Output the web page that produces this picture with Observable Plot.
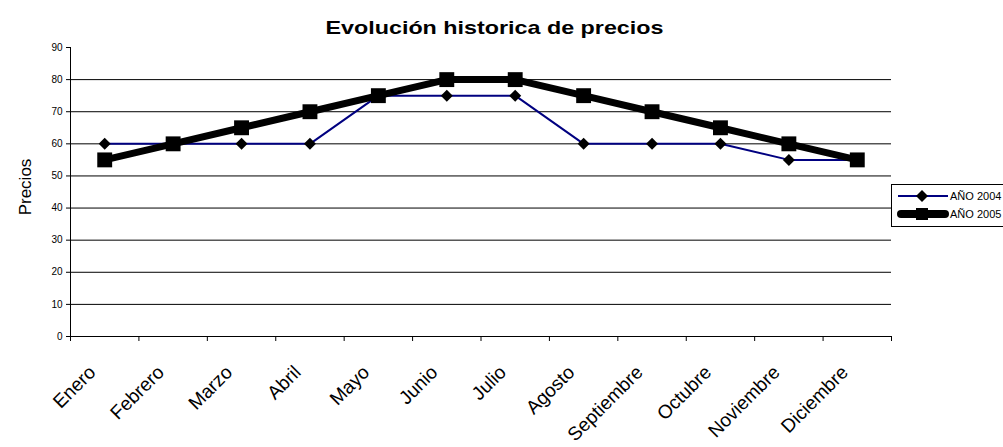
<!DOCTYPE html>
<html><head><meta charset="utf-8">
<script src="https://cdn.jsdelivr.net/npm/d3@7"></script>
<script src="https://cdn.jsdelivr.net/npm/@observablehq/plot@0.6"></script>
<style>
body{margin:0;background:#fff;font-family:"Liberation Sans",Arial,sans-serif;}
#wrap{position:relative;width:1003px;height:447px;overflow:hidden;}
#legend{position:absolute;left:891px;top:184px;width:124px;height:43px;border:1px solid #000;background:#fff;box-sizing:border-box;}
.item{position:absolute;left:4px;height:16px;display:flex;align-items:center;font-size:11px;color:#000;white-space:nowrap;}
.item svg{display:block;}
</style></head><body><div id="wrap"><div id="legend"></div></div>
<script>
const months = ["Enero","Febrero","Marzo","Abril","Mayo","Junio","Julio","Agosto","Septiembre","Octubre","Noviembre","Diciembre"];
const values2004 = [60,60,60,60,75,75,75,60,60,60,55,55];
const values2005 = [55,60,65,70,75,80,80,75,70,65,60,55];
const yTicks = [0,10,20,30,40,50,60,70,80,90];
const seriesNames = ["AÑO 2004","AÑO 2005"];
const title = "Evolución historica de precios";
const yLabel = "Precios";

const d2004 = months.map((m,i)=>({i, month:m, value:values2004[i]}));
const d2005 = months.map((m,i)=>({i, month:m, value:values2005[i]}));
const boundaries = d3.range(months.length+1).map(k=>k-0.5);

const plot = Plot.plot({
  width:1003, height:447,
  marginLeft:70, marginRight:112, marginTop:47, marginBottom:111,
  style:{fontFamily:"Liberation Sans, Arial, sans-serif", background:"white", color:"#000"},
  x:{domain:[-0.5, months.length-0.5], axis:null},
  y:{domain:[0,90], axis:null},
  marks:[
    Plot.ruleY(yTicks.filter(t=>t>0 && t<90), {stroke:"#000", strokeWidth:1}),
    Plot.ruleY([0], {stroke:"#000", strokeWidth:1}),
    Plot.ruleX([-0.5], {stroke:"#000", strokeWidth:1}),
    Plot.axisY({ticks:yTicks, tickSize:4, tickPadding:4, fontSize:10, label:null, stroke:"#000"}),
    Plot.axisX({ticks:boundaries, tickSize:5, tickFormat:()=>"", label:null}),
    Plot.text(d2004, {x:"i", text:"month", frameAnchor:"bottom", rotate:-45, textAnchor:"end", lineAnchor:"bottom", dx:-8, dy:37, fontSize:19}),
    Plot.text([yLabel], {frameAnchor:"left", textAnchor:"middle", rotate:-90, dx:-45, dy:-5, fontSize:17}),
    Plot.text([title], {frameAnchor:"top", textAnchor:"middle", lineAnchor:"bottom", dy:-14, dx:13.5, fontWeight:"bold", fontSize:19, className:"ttl"}),
    Plot.line(d2004, {x:"i", y:"value", stroke:"#000080", strokeWidth:2}),
    Plot.dot(d2004, {x:"i", y:"value", symbol:"diamond2", r:5.4, fill:"#000", stroke:"none"}),
    Plot.line(d2005, {x:"i", y:"value", stroke:"#000", strokeWidth:7}),
    Plot.dot(d2005, {x:"i", y:"value", symbol:"square", r:8.4, fill:"#000", stroke:"none"})
  ]
});
document.getElementById("wrap").prepend(plot);
d3.select(plot).selectAll(".ttl text").attr("textLength", 338).attr("lengthAdjust", "spacingAndGlyphs");

const legend = document.getElementById("legend");
legend.innerHTML = `
<div class="item" style="top:3px"><svg width="54" height="16"><line x1="2" x2="52" y1="8" y2="8" stroke="#000080" stroke-width="2"/><path d="M26,2 L32,8 L26,14 L20,8Z" fill="#000"/></svg><span>${seriesNames[0]}</span></div>
<div class="item" style="top:21px"><svg width="54" height="16"><line x1="5" x2="49" y1="8" y2="8" stroke="#000" stroke-width="8" stroke-linecap="round"/><rect x="20" y="2" width="12" height="12" fill="#000"/></svg><span>${seriesNames[1]}</span></div>`;
</script>
</body></html>
